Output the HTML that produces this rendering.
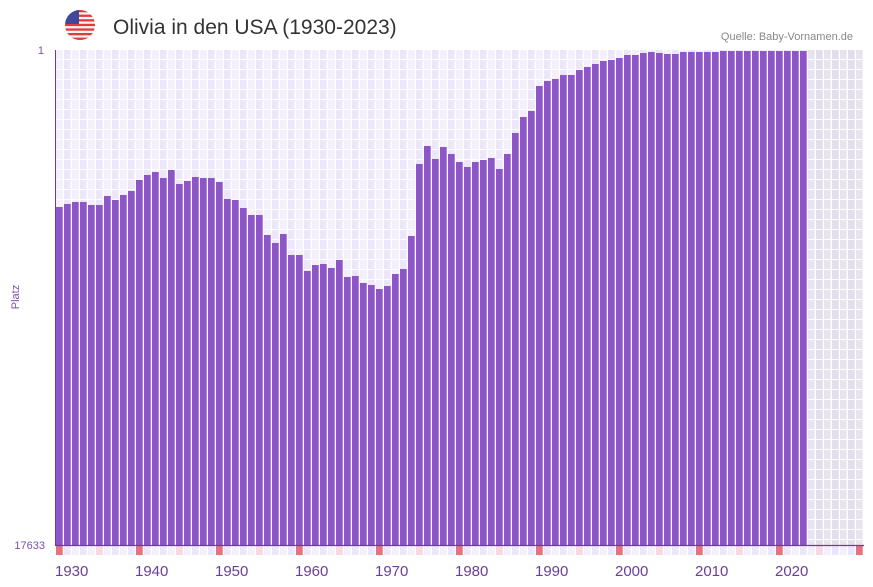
<!DOCTYPE html>
<html><head><meta charset="utf-8"><style>
html,body{margin:0;padding:0;background:#fff;}
svg{display:block;font-family:"Liberation Sans",sans-serif;}
</style></head><body>
<svg width="873" height="587" viewBox="0 0 873 587" xmlns="http://www.w3.org/2000/svg">
<defs>
<pattern id="cells" patternUnits="userSpaceOnUse" x="56" y="50" width="16" height="10">
<rect x="0" y="0" width="6.7" height="9" fill="#f3f0fb"/>
<rect x="8" y="0" width="6.7" height="9" fill="#ece7f8"/>
</pattern>
<pattern id="fcells" patternUnits="userSpaceOnUse" x="56" y="50" width="16" height="10">
<rect x="0" y="0" width="6.7" height="9" fill="#e7e4ef"/>
<rect x="8" y="0" width="6.7" height="9" fill="#e2deec"/>
</pattern>
<pattern id="strip" patternUnits="userSpaceOnUse" x="56" y="546" width="16" height="9">
<rect x="0" y="0" width="6.7" height="9" fill="#f3f0fb"/>
<rect x="8" y="0" width="6.7" height="9" fill="#ece7f8"/>
</pattern>
<clipPath id="fc"><circle cx="80" cy="25" r="15"/></clipPath>
</defs>
<rect width="873" height="587" fill="#fff"/>
<g clip-path="url(#fc)">
<rect x="65" y="10" width="30" height="30" fill="#f4f4f4"/>
<rect x="65" y="10" width="30" height="2.3" fill="#e23b3b"/>
<rect x="65" y="14.6" width="30" height="2.3" fill="#e23b3b"/>
<rect x="65" y="19.2" width="30" height="2.3" fill="#e23b3b"/>
<rect x="65" y="23.8" width="30" height="2.3" fill="#e23b3b"/>
<rect x="65" y="28.4" width="30" height="2.3" fill="#e23b3b"/>
<rect x="65" y="33" width="30" height="2.3" fill="#e23b3b"/>
<rect x="65" y="37.6" width="30" height="2.4" fill="#e23b3b"/>
<rect x="65" y="10" width="14" height="14" fill="#41479b"/>
</g>
<text x="113" y="34" font-size="21" fill="#333">Olivia in den USA (1930-2023)</text>
<text x="853" y="40" font-size="11" fill="#888" text-anchor="end">Quelle: Baby-Vornamen.de</text>
<rect x="56" y="50" width="752" height="495" fill="url(#cells)"/>
<rect x="808" y="50" width="56" height="495" fill="url(#fcells)"/>
<g fill="#8d55c7">
<rect x="56" y="207" width="6.7" height="338"/>
<rect x="64" y="204" width="6.7" height="341"/>
<rect x="72" y="202" width="6.7" height="343"/>
<rect x="80" y="202" width="6.7" height="343"/>
<rect x="88" y="205" width="6.7" height="340"/>
<rect x="96" y="205" width="6.7" height="340"/>
<rect x="104" y="196" width="6.7" height="349"/>
<rect x="112" y="200" width="6.7" height="345"/>
<rect x="120" y="195" width="6.7" height="350"/>
<rect x="128" y="191" width="6.7" height="354"/>
<rect x="136" y="180" width="6.7" height="365"/>
<rect x="144" y="175" width="6.7" height="370"/>
<rect x="152" y="172" width="6.7" height="373"/>
<rect x="160" y="178" width="6.7" height="367"/>
<rect x="168" y="170" width="6.7" height="375"/>
<rect x="176" y="184" width="6.7" height="361"/>
<rect x="184" y="181" width="6.7" height="364"/>
<rect x="192" y="177" width="6.7" height="368"/>
<rect x="200" y="178" width="6.7" height="367"/>
<rect x="208" y="178" width="6.7" height="367"/>
<rect x="216" y="182" width="6.7" height="363"/>
<rect x="224" y="199" width="6.7" height="346"/>
<rect x="232" y="200" width="6.7" height="345"/>
<rect x="240" y="208" width="6.7" height="337"/>
<rect x="248" y="215" width="6.7" height="330"/>
<rect x="256" y="215" width="6.7" height="330"/>
<rect x="264" y="235" width="6.7" height="310"/>
<rect x="272" y="243" width="6.7" height="302"/>
<rect x="280" y="234" width="6.7" height="311"/>
<rect x="288" y="255" width="6.7" height="290"/>
<rect x="296" y="255" width="6.7" height="290"/>
<rect x="304" y="271" width="6.7" height="274"/>
<rect x="312" y="265" width="6.7" height="280"/>
<rect x="320" y="264" width="6.7" height="281"/>
<rect x="328" y="268" width="6.7" height="277"/>
<rect x="336" y="260" width="6.7" height="285"/>
<rect x="344" y="277" width="6.7" height="268"/>
<rect x="352" y="276" width="6.7" height="269"/>
<rect x="360" y="283" width="6.7" height="262"/>
<rect x="368" y="285" width="6.7" height="260"/>
<rect x="376" y="289" width="6.7" height="256"/>
<rect x="384" y="286" width="6.7" height="259"/>
<rect x="392" y="274" width="6.7" height="271"/>
<rect x="400" y="269" width="6.7" height="276"/>
<rect x="408" y="236" width="6.7" height="309"/>
<rect x="416" y="164" width="6.7" height="381"/>
<rect x="424" y="146" width="6.7" height="399"/>
<rect x="432" y="159" width="6.7" height="386"/>
<rect x="440" y="147" width="6.7" height="398"/>
<rect x="448" y="154" width="6.7" height="391"/>
<rect x="456" y="162" width="6.7" height="383"/>
<rect x="464" y="167" width="6.7" height="378"/>
<rect x="472" y="162" width="6.7" height="383"/>
<rect x="480" y="160" width="6.7" height="385"/>
<rect x="488" y="158" width="6.7" height="387"/>
<rect x="496" y="169" width="6.7" height="376"/>
<rect x="504" y="154" width="6.7" height="391"/>
<rect x="512" y="133" width="6.7" height="412"/>
<rect x="520" y="117" width="6.7" height="428"/>
<rect x="528" y="111" width="6.7" height="434"/>
<rect x="536" y="86" width="6.7" height="459"/>
<rect x="544" y="81" width="6.7" height="464"/>
<rect x="552" y="79" width="6.7" height="466"/>
<rect x="560" y="75" width="6.7" height="470"/>
<rect x="568" y="75" width="6.7" height="470"/>
<rect x="576" y="70" width="6.7" height="475"/>
<rect x="584" y="67" width="6.7" height="478"/>
<rect x="592" y="64" width="6.7" height="481"/>
<rect x="600" y="61" width="6.7" height="484"/>
<rect x="608" y="60" width="6.7" height="485"/>
<rect x="616" y="58" width="6.7" height="487"/>
<rect x="624" y="55" width="6.7" height="490"/>
<rect x="632" y="55" width="6.7" height="490"/>
<rect x="640" y="53" width="6.7" height="492"/>
<rect x="648" y="52" width="6.7" height="493"/>
<rect x="656" y="53" width="6.7" height="492"/>
<rect x="664" y="54" width="6.7" height="491"/>
<rect x="672" y="54" width="6.7" height="491"/>
<rect x="680" y="52" width="6.7" height="493"/>
<rect x="688" y="52" width="6.7" height="493"/>
<rect x="696" y="52" width="6.7" height="493"/>
<rect x="704" y="52" width="6.7" height="493"/>
<rect x="712" y="52" width="6.7" height="493"/>
<rect x="720" y="51" width="6.7" height="494"/>
<rect x="728" y="51" width="6.7" height="494"/>
<rect x="736" y="51" width="6.7" height="494"/>
<rect x="744" y="51" width="6.7" height="494"/>
<rect x="752" y="51" width="6.7" height="494"/>
<rect x="760" y="51" width="6.7" height="494"/>
<rect x="768" y="51" width="6.7" height="494"/>
<rect x="776" y="51" width="6.7" height="494"/>
<rect x="784" y="51" width="6.7" height="494"/>
<rect x="792" y="51" width="6.7" height="494"/>
<rect x="800" y="51" width="6.7" height="494"/>
</g>
<rect x="56" y="546" width="808" height="9" fill="url(#strip)"/>
<g fill="#e8717b">
<rect x="56" y="546" width="6.7" height="9"/><rect x="136" y="546" width="6.7" height="9"/><rect x="216" y="546" width="6.7" height="9"/><rect x="296" y="546" width="6.7" height="9"/><rect x="376" y="546" width="6.7" height="9"/><rect x="456" y="546" width="6.7" height="9"/><rect x="536" y="546" width="6.7" height="9"/><rect x="616" y="546" width="6.7" height="9"/><rect x="696" y="546" width="6.7" height="9"/><rect x="776" y="546" width="6.7" height="9"/><rect x="856" y="546" width="6.7" height="9"/>
</g>
<g fill="#f6d9e3">
<rect x="96" y="546" width="6.7" height="9"/><rect x="176" y="546" width="6.7" height="9"/><rect x="256" y="546" width="6.7" height="9"/><rect x="336" y="546" width="6.7" height="9"/><rect x="416" y="546" width="6.7" height="9"/><rect x="496" y="546" width="6.7" height="9"/><rect x="576" y="546" width="6.7" height="9"/><rect x="656" y="546" width="6.7" height="9"/><rect x="736" y="546" width="6.7" height="9"/><rect x="816" y="546" width="6.7" height="9"/>
</g>
<line x1="55.5" y1="50" x2="55.5" y2="545.5" stroke="#6a3d9a" stroke-width="1"/>
<line x1="55" y1="545.5" x2="864" y2="545.5" stroke="#6a3d9a" stroke-width="1.2"/>
<g fill="#7a4fb0" font-size="11">
<text x="44" y="54" text-anchor="end">1</text>
<text x="45" y="549" text-anchor="end">17633</text>
<text transform="translate(19,297) rotate(-90)" text-anchor="middle">Platz</text>
</g>
<g fill="#6a3d9a" font-size="15">
<text x="55" y="576">1930</text>
<text x="135" y="576">1940</text>
<text x="215" y="576">1950</text>
<text x="295" y="576">1960</text>
<text x="375" y="576">1970</text>
<text x="455" y="576">1980</text>
<text x="535" y="576">1990</text>
<text x="615" y="576">2000</text>
<text x="695" y="576">2010</text>
<text x="775" y="576">2020</text>
</g>
</svg>
</body></html>
